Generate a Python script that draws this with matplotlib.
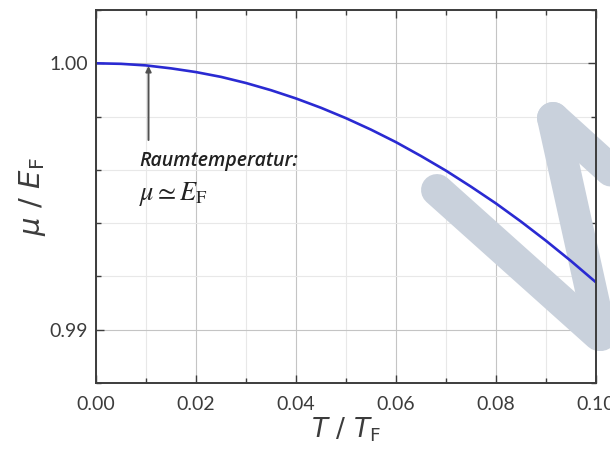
"""
Chemisches Potential im Fermigas - Vergleich mit Raumtemperatur
"""

import matplotlib
matplotlib.use("Agg")
import matplotlib.pyplot as plt
from matplotlib.ticker import MultipleLocator, FormatStrFormatter
from matplotlib.transforms import IdentityTransform

plt.rcParams['font.family'] = ['Lato', 'DejaVu Sans']

# Werte
t_rel = [0.000, 0.005, 0.010, 0.015, 0.020, 0.025, 0.030, 0.035, 0.040, 0.045, 0.050,
         0.055, 0.060, 0.065, 0.070, 0.075, 0.080, 0.085, 0.090, 0.095, 0.100]
mu_rel = [1.00000, 0.99998, 0.99992, 0.99981, 0.99967, 0.99949, 0.99926, 0.99899, 0.99868,
          0.99833, 0.99794, 0.99751, 0.99704, 0.99652, 0.99597, 0.99537, 0.99474, 0.99406,
          0.99334, 0.99258, 0.99178]

x_ticks = [0.00, 0.02, 0.04, 0.06, 0.08, 0.10]
y_ticks = [0.99, 1.00]

arrow_x = 0.0105
arrow_from = 0.99712
arrow_to = 0.99990

GREY = '#3c3c3c'

fig = plt.figure(figsize=(6.10, 4.55), dpi=100)
ax = fig.add_axes([0.1574, 0.1582, 0.8196, 0.8198])

ax.plot(t_rel, mu_rel, color='#2a2ad2', lw=1.9, zorder=3)

ax.set_xlim(0.0, 0.10)
ax.set_ylim(0.988, 1.002)
ax.set_xticks(x_ticks)
ax.set_yticks(y_ticks)
ax.xaxis.set_minor_locator(MultipleLocator(0.01))
ax.yaxis.set_minor_locator(MultipleLocator(0.002))
ax.xaxis.set_major_formatter(FormatStrFormatter('%.2f'))
ax.yaxis.set_major_formatter(FormatStrFormatter('%.2f'))

ax.set_axisbelow(True)
ax.grid(which='major', color='#c4c4c4', lw=0.8)
ax.grid(which='minor', color='#e8e8e8', lw=0.8)

ax.tick_params(which='both', direction='in', top=True, right=True, colors=GREY,
               labelsize=14, width=1.0)
ax.tick_params(which='major', length=6)
ax.tick_params(which='minor', length=3.5)
ax.tick_params(axis='x', which='major', pad=9)
ax.tick_params(axis='y', which='major', pad=6)
for sp in ax.spines.values():
    sp.set_color(GREY)
    sp.set_linewidth(1.4)
    sp.set_zorder(4)

ax.set_xlabel(r'$T\ /\ T_\mathrm{F}$', fontsize=19, color=GREY,
              math_fontfamily='dejavusans', labelpad=2)
ax.set_ylabel(r'$\mu\ /\ E_\mathrm{F}$', fontsize=21, color=GREY,
              math_fontfamily='dejavusans', labelpad=1)

# Pfeil und Beschriftung
ax.annotate('', xy=(arrow_x, arrow_to), xytext=(arrow_x, arrow_from),
            arrowprops=dict(arrowstyle='-|>', color='#505050', lw=1.4,
                            mutation_scale=8, shrinkA=0, shrinkB=0), zorder=3)
ax.text(0.0086, 0.99633, 'Raumtemperatur:', fontsize=14, style='italic',
        fontweight='semibold', color='#222222', va='center', ha='left',
        family=['Open Sans', 'DejaVu Sans'])
ax.text(0.0086, 0.99508, r'$\mu \simeq E_\mathrm{F}$', fontsize=19, color='#222222',
        va='center', ha='left', math_fontfamily='stix')

# Wasserzeichen
wm = dict(color='#c9d1dc', lw=23, solid_capstyle='round', transform=IdentityTransform(),
          clip_on=False, zorder=1)
ax.plot([437, 599], [455 - 190, 455 - 335], **wm)
ax.plot([553, 601], [455 - 118, 455 - 335], **wm)
ax.plot([553, 660], [455 - 118, 455 - 215], **wm)

fig.savefig('out.png', dpi=100)
